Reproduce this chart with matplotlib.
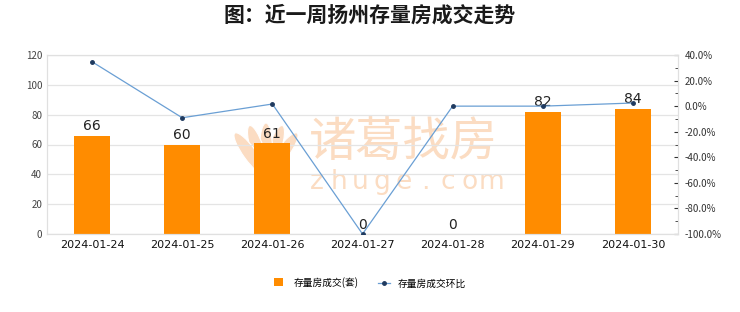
import numpy as np
import matplotlib.pyplot as plt
from matplotlib.patches import Ellipse
from matplotlib.ticker import FuncFormatter, MultipleLocator

plt.rcParams['font.family'] = ['Noto Sans CJK SC', 'DejaVu Sans']

dates = ["2024-01-24", "2024-01-25", "2024-01-26", "2024-01-27",
         "2024-01-28", "2024-01-29", "2024-01-30"]
deals = [66, 60, 61, 0, 0, 82, 84]
mom_pct = [34.7, -9.09, 1.67, -100.0, 0.0, 0.0, 2.44]

BAR_COLOR = "#ff8c00"
LINE_COLOR = "#6a9fd4"
MARKER_COLOR = "#1f3a5f"
WM_COLOR = "#fbdcc2"

fig = plt.figure(figsize=(7.4, 3.12), dpi=100)
ax = fig.add_axes([47 / 740, 1 - 234 / 312, 631 / 740, 179 / 312])
x = np.arange(len(dates))

# watermark (logo petals + text), behind the bars
base = (2.66, 3.12 - 1.76)
for a in [-36, -18, 0, 18, 36]:
    r = np.deg2rad(a)
    cx = base[0] - 0.27 * np.sin(r)
    cy = base[1] + 0.27 * np.cos(r)
    ax.add_patch(Ellipse((cx, cy), 0.13, 0.52, angle=a, transform=fig.dpi_scale_trans,
                         facecolor=WM_COLOR, edgecolor="white", lw=0.8, zorder=1,
                         clip_on=False))
ax.text(0.545, 0.542, "诸葛找房", transform=fig.transFigure, fontsize=34, color=WM_COLOR,
        ha="center", va="center", zorder=1)
for i, ch in enumerate("zhuge.com"):
    ax.text(0.428 + i * 0.0295, 0.417, ch, transform=fig.transFigure, fontsize=19,
            color=WM_COLOR, ha="center", va="center", family="DejaVu Sans", zorder=1)

ax.bar(x, deals, width=0.4, color=BAR_COLOR, zorder=2, label="存量房成交(套)")
for xi, v in zip(x, deals):
    ax.text(xi, v + 1.5, f"{v}", ha="center", va="bottom", fontsize=10, color="#222222",
            family="DejaVu Sans", zorder=5)

ax.set_xlim(-0.5, len(dates) - 0.5)
ax.set_ylim(0, 120)
ax.yaxis.set_major_locator(MultipleLocator(20))
ax.set_xticks(x)
ax.set_xticklabels(dates, fontsize=8, family="DejaVu Sans")
ax.tick_params(axis="y", labelsize=7, colors="#444444", length=0)
ax.tick_params(axis="x", length=0, pad=4, colors="#111111")
ax.grid(axis="y", color="#e4e4e4", lw=0.9, zorder=0)
for sp in ax.spines.values():
    sp.set_color("#e0e0e0")

ax2 = ax.twinx()
ax2.plot(x, mom_pct, color=LINE_COLOR, lw=0.9, marker="o", markersize=2.5,
         markerfacecolor=MARKER_COLOR, markeredgecolor=MARKER_COLOR, zorder=4,
         label="存量房成交环比")
ax2.set_ylim(-100, 40)
ax2.yaxis.set_major_locator(MultipleLocator(20))
ax2.yaxis.set_minor_locator(MultipleLocator(10))
ax2.yaxis.set_major_formatter(FuncFormatter(lambda v, p: f"{v:.1f}%"))
ax2.tick_params(axis="y", which="both", direction="in", labelsize=7, colors="#333333")
ax2.tick_params(axis="y", which="major", length=3, pad=5)
ax2.tick_params(axis="y", which="minor", length=2)
for sp in ax2.spines.values():
    sp.set_color("#e0e0e0")
ax.set_zorder(ax2.get_zorder() - 1)
ax2.patch.set_visible(False)

fig.text(0.5, 0.952, "图：近一周扬州存量房成交走势", fontsize=15, fontweight="bold",
         color="#1a1a1a", ha="center", va="center")

h1, l1 = ax.get_legend_handles_labels()
h2, l2 = ax2.get_legend_handles_labels()
leg = fig.legend(h1 + h2, l1 + l2, loc="center", bbox_to_anchor=(0.5, 1 - 283 / 312),
                 ncol=2, fontsize=7, frameon=False, handlelength=1.2, columnspacing=2.0)
leg.legend_handles[0].set_height(6)
leg.legend_handles[0].set_width(6)

fig.savefig("out.png", dpi=100)
